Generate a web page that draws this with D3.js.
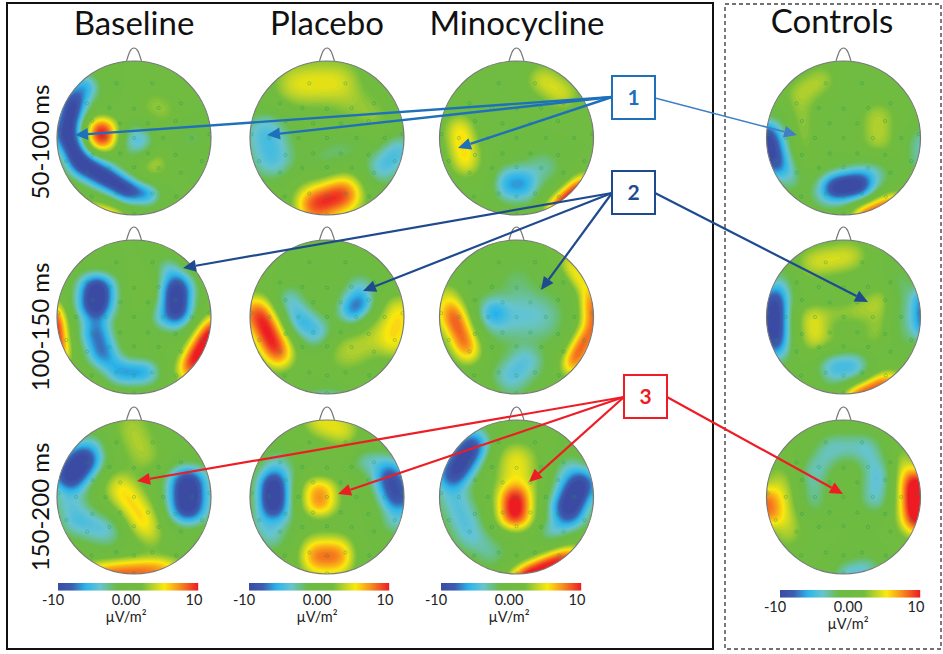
<!DOCTYPE html>
<html><head><meta charset="utf-8">
<style>html,body{margin:0;padding:0;background:#fff}svg{display:block}text{font-family:Lato,"Open Sans",sans-serif}</style>
<script src="https://cdnjs.cloudflare.com/ajax/libs/d3/7.8.5/d3.min.js"></script>
</head><body><svg id="c" width="943" height="654"></svg>
<script>
// Strokes of each scalp map: [x1, y1, x2, y2, spread, amplitude µV/m²], head-normalised.
const base50 = [[-.78,-.5,-.88,-.05,.08,-13],[-.88,-.05,-.7,.33,.08,-13],[-.7,.33,-.35,.52,.08,-13],[-.35,.52,-.05,.7,.07,-13],[-.1,.68,.22,.74,.06,-10],[-.62,-.68,-.78,-.5,.09,-8],[0,.02,.1,.05,.11,-5.5],[-.42,-.12,-.42,.02,.1,12],[.2,.36,.32,.32,.1,3.8],[.25,-.42,.38,-.35,.14,3],[-.6,.95,-.2,1.05,.06,9],[.75,0,.75,0,.1,-2.5]];
const plac50 = [[-.45,-.7,.2,-.72,.18,5],[.3,-.5,.6,-.25,.18,3],[-.8,-.1,-.7,.3,.16,-5.5],[-.1,.3,.4,.05,.12,-2.6],[.7,.4,.95,.15,.12,-5.5],[-.2,.88,.25,.72,.14,10.5]];
const mino50 = [[-.75,-.15,-.65,.35,.11,6.3],[.3,-.78,.65,-.55,.12,4.8],[-.1,.6,.1,.6,.12,-7.5],[.1,.55,.4,.35,.13,-3.5],[.5,.95,.9,.6,.07,14]];
const ctrl50 = [[-1,-.1,-.88,.4,.07,-13],[-.85,-.15,-.7,.55,.08,-6],[-.15,.65,.25,.6,.09,-13],[-.25,.72,.4,.48,.11,-6],[.2,1.02,.7,.82,.06,12],[-.6,-.55,-.25,-.78,.12,3.8],[-.55,-.5,-.55,.2,.11,3.1],[.45,-.3,.45,.05,.14,3.8],[1,0,1,.3,.1,-4]];
const base100 = [[-.48,-.38,-.5,-.15,.12,-13],[-.5,-.1,-.5,.2,.1,-7],[-.5,.2,-.4,.48,.1,-8.5],[-.45,.45,-.2,.7,.09,-6.5],[-.2,.72,.2,.72,.08,-8],[.55,-.4,.55,-.05,.1,-13],[.42,-.65,.7,-.35,.07,-6],[.35,0,.55,.05,.08,-6],[.7,.7,1.05,.1,.08,13],[-1.03,-.1,-.95,.55,.06,12],[.1,-.35,.1,-.35,.08,3]];
const plac100 = [[-.92,-.1,-.62,.5,.11,11.5],[-.5,-.25,-.35,.05,.1,-5],[-.35,.05,-.1,.22,.11,-6],[.32,-.08,.45,-.2,.09,-9],[.45,-.4,.3,0,.11,-5],[.2,.5,.8,.15,.16,3.8],[.95,-.1,.85,.35,.13,6],[-.2,1.05,.2,1.05,.06,-5]];
const mino100 = [[-.85,-.1,-.62,.45,.1,10],[.95,-.3,.98,.15,.06,10],[.98,.15,.7,.65,.07,11],[.65,-.75,.95,-.3,.06,7],[-.9,-.3,-.85,.1,.1,5],[-.28,-.05,-.28,-.05,.1,-7.5],[-.3,0,.35,0,.2,-4.2],[0,-.5,.1,-.2,.16,-2.5],[-.1,.8,.15,.55,.14,-5]];
const ctrl100 = [[-.9,-.3,-.9,.4,.08,-13],[-.8,-.5,-.8,.5,.07,-5.5],[1,-.3,1,.2,.06,-9],[.75,-.6,.8,.35,.08,-3],[-.45,-.7,.15,-.8,.12,4.8],[-.4,0,-.35,.3,.12,5],[-.35,0,.2,-.1,.09,3],[.2,-.05,.5,-.25,.1,3.5],[.5,-.25,.4,.3,.09,3.2],[-.3,.35,.3,.3,.09,2.6],[-.15,.66,.15,.62,.12,-6],[.1,1.03,.65,.82,.06,12]];
const base150 = [[-.85,-.25,-.65,-.5,.12,-13],[-.55,-.7,-.5,-.5,.08,-5.5],[-.85,0,-.75,.3,.13,-4.5],[-.75,.3,-.3,.45,.12,-5],[.7,-.2,.7,.15,.13,-13],[-.2,-.15,.15,.35,.13,6.2],[.1,.3,.25,.55,.1,4],[.15,-.5,-.05,-.95,.15,3.6],[-.6,1,.5,.93,.08,9.5]];
const plac150 = [[-.7,-.2,-.7,.15,.1,-13],[-.65,-.4,-.65,.3,.12,-6],[-.85,.3,-.7,.55,.1,-4.5],[.8,-.3,.93,.05,.11,-11],[.45,-.45,.8,-.45,.08,-4.5],[.9,.3,.9,.3,.1,-5],[-.1,-.07,-.1,.08,.13,8.2],[-.15,.77,.15,.77,.14,8.8],[-.15,-1,.25,-.85,.12,5.2]];
const mino150 = [[-.85,-.25,-.55,-.7,.11,-12],[-.85,-.1,-.6,.5,.13,-5],[-.6,.5,-.3,.75,.12,-3.5],[.65,.2,.85,-.2,.11,-13],[.4,.45,.85,.25,.07,-5.5],[.7,-.4,.55,.2,.1,-5],[-.02,0,-.02,.25,.12,12],[0,-.5,0,-.15,.16,5.2],[0,1.05,.75,.75,.06,14]];
const ctrl150 = [[.92,-.25,.95,.35,.09,14],[.78,-.55,.8,.4,.07,5.5],[-.98,0,-.95,.25,.1,9],[-.85,-.25,-.72,.5,.12,4.5],[-.4,.1,-.4,-.3,.1,-3.6],[-.4,-.3,-.15,-.65,.1,-4],[-.15,-.65,.3,-.65,.1,-4],[.3,-.65,.45,-.3,.1,-4.2],[.45,-.3,.4,.05,.1,-4.8],[0,1,.35,.92,.08,-5]];

const columnTitles = ["Baseline","Placebo","Minocycline","Controls"];
const rowLabels = ["50-100 ms","100-150 ms","150-200 ms"];
const mapRows = [[base50,plac50,mino50,ctrl50],[base100,plac100,mino100,ctrl100],[base150,plac150,mino150,ctrl150]];
const legendTicks = [-10,0,10];
const legendUnit = "µV/m²";
const colorStops = [-10,-8,-6,-4,-1.6,2,3.6,5.2,7.4,10];
const colorValues = ["#3b4ba3","#3c5fb0","#2bb5ea","#66c4d2","#6cbb45","#72bc3e","#b8d22c","#fbe90f","#f78e1e","#ed1c24"];
const electrodes = [[-.23,-.71],[.24,-.71],[-.61,-.45],[-.32,-.39],[0,-.38],[.32,-.39],[.61,-.45],[-.54,-.22],[-.18,-.19],[.18,-.19],[.54,-.22],[-.75,0],[-.37,0],[0,0],[.38,0],[.75,0],[-.54,.22],[-.18,.2],[.18,.2],[.54,.22],[-.88,.3],[.88,.3],[-.61,.45],[-.32,.39],[0,.38],[.32,.39],[.61,.45],[-.55,.76],[-.23,.72],[0,.76],[.24,.72],[.55,.76],[-.98,-.05],[.98,-.05],[0,.99]];
const callouts = [
 {label:"1",color:"#1f70bb",text:"#1f70bb",box:[612,76],from:[[612,97],[612,97],[612,97],[655,98]],to:[[75,135],[267,135],[458,148],[797,135]],w:[2.4,2.4,2.4,1.5]},
 {label:"2",color:"#1f4b8e",text:"#1f4b8e",box:[612,171],from:[[612,193],[612,193],[612,193],[655,193]],to:[[183,268],[363,291],[541,290],[868,302]],w:[2.2,2.2,2.2,2.2]},
 {label:"3",color:"#ee1c25",text:"#ee1c25",box:[624,375],from:[[624,397],[624,397],[624,397],[667,397]],to:[[137,481],[338,494],[529,482],[843,494]],w:[2.2,2.2,2.2,2.2]}
];

const colX = [134,327,516.5,843.5], rowY = [138,317,497], R = 77;
const svg = d3.select("#c");
const color = d3.scaleLinear().domain(colorStops).range(colorValues).clamp(true);
const defs = svg.append("defs");
defs.append("filter").attr("id","soft").attr("x","-5%").attr("y","-5%").attr("width","110%").attr("height","110%")
  .append("feGaussianBlur").attr("stdDeviation",0.6);

// frames
svg.append("rect").attr("x",7).attr("y",3).attr("width",706).attr("height",646).attr("fill","none").attr("stroke","#111").attr("stroke-width",2);
svg.append("rect").attr("x",725).attr("y",4).attr("width",216).attr("height",645).attr("fill","none").attr("stroke","#444").attr("stroke-width",1.4).attr("stroke-dasharray","4 3");

const N=150, P=3, WIDEN=1.3, BLUR=5;
const thresholds=d3.range(-10,10.01,.25);
const gridScale=d3.scaleLinear().domain([0,N-1]).range([-1.03,1.03]);
// elongated blob: Gaussian across the stroke, flat-topped along it, tapering at its ends
function blob(x,y,s){
  const sp=s[4]*WIDEN, mx=(s[0]+s[2])/2, my=(s[1]+s[3])/2;
  let dx=s[2]-s[0],dy=s[3]-s[1];const L=Math.hypot(dx,dy);
  const px=x-mx,py=y-my;
  if(L<1e-6) return Math.exp(-(px*px+py*py)/(2*sp*sp));
  dx/=L;dy/=L;
  const along=px*dx+py*dy, perp=-px*dy+py*dx, a=L/2+sp;
  return Math.exp(-perp*perp/(2*sp*sp))*Math.exp(-Math.pow(along/a,4)*.9);
}
function field(strokes){
  const v=new Float64Array(N*N);
  for(let j=0;j<N;j++)for(let i=0;i<N;i++){
    const x=gridScale(i),y=gridScale(j);let pos=0,neg=0;
    for(const s of strokes){
      const g=Math.abs(s[5])*blob(x,y,s);
      if(s[5]>0)pos+=Math.pow(g,P);else neg+=Math.pow(g,P);
    }
    v[j*N+i]=Math.pow(pos,1/P)-Math.pow(neg,1/P);
  }
  d3.blur2({data:v,width:N,height:N},BLUR);
  return v;
}
mapRows.forEach((row,r)=>row.forEach((strokes,c)=>{
  const cx=colX[c],cy=rowY[r],id=`clip${r}${c}`;
  defs.append("clipPath").attr("id",id).append("circle").attr("cx",cx).attr("cy",cy).attr("r",R);
  const g=svg.append("g").attr("clip-path",`url(#${id})`);
  const inner=g.append("g").attr("filter","url(#soft)");
  const cont=d3.contours().size([N,N]).thresholds(thresholds).smooth(true)(field(strokes));
  const k=R*2.06/(N-1), proj=d3.geoIdentity().scale(k).translate([cx-R*1.03-k*.5,cy-R*1.03-k*.5]);
  const path=d3.geoPath(proj);
  inner.append("rect").attr("x",cx-R-3).attr("y",cy-R-3).attr("width",2*R+6).attr("height",2*R+6).attr("fill",color(-10));
  inner.selectAll("path").data(cont).join("path").attr("d",path).attr("fill",d=>color(d.value+.125));
  g.selectAll("circle.e").data(electrodes).join("circle").attr("class","e")
    .attr("cx",d=>cx+d[0]*R).attr("cy",d=>cy+d[1]*R).attr("r",1.6).attr("fill","none").attr("stroke","#1d9a5a").attr("stroke-opacity",.4).attr("stroke-width",.9);
  svg.append("circle").attr("cx",cx).attr("cy",cy).attr("r",R).attr("fill","none").attr("stroke","#777").attr("stroke-width",1.2);
  svg.append("path").attr("d",`M${cx-7.5},${cy-R}C${cx-5},${cy-R-8} ${cx-3.5},${cy-R-13} ${cx},${cy-R-13}C${cx+3.5},${cy-R-13} ${cx+5},${cy-R-8} ${cx+7.5},${cy-R}`)
    .attr("fill","none").attr("stroke","#777").attr("stroke-width",1.2);
}));

// titles
const titleX=[134,327,517,832], titleY=[35,35,35,33];
svg.selectAll("text.title").data(columnTitles).join("text").attr("class","title")
  .attr("x",(d,i)=>titleX[i]).attr("y",(d,i)=>titleY[i]).attr("text-anchor","middle").attr("font-size",33).attr("fill","#111").text(d=>d);
const rowLabelY=[142,327,507];
svg.selectAll("text.row").data(rowLabels).join("text").attr("class","row")
  .attr("transform",(d,i)=>`translate(49,${rowLabelY[i]}) rotate(-90)`).attr("text-anchor","middle").attr("font-size",24).attr("fill","#111").text(d=>d);

// legends
const legendPos=[[58,583],[249,583],[441,583],[780,590]];
const lx=d3.scaleLinear().domain([-10,10]).range([0,140]);
const tickFmt=v=>v===0?"0.00":String(v), tickShift={"-10":-5,"0":-2,"10":-4};
legendPos.forEach(([x,y])=>{
  const g=svg.append("g").attr("transform",`translate(${x},${y})`);
  g.selectAll("rect").data(d3.range(0,140)).join("rect").attr("x",d=>d).attr("y",0).attr("width",1.2).attr("height",7.5).attr("fill",d=>color(lx.invert(d+.5)));
  g.selectAll("text.t").data(legendTicks).join("text").attr("class","t").attr("x",d=>lx(d)+tickShift[d]).attr("y",22).attr("text-anchor","middle").attr("font-size",14.5).attr("fill","#222").text(tickFmt);
  g.append("text").attr("x",68).attr("y",39).attr("text-anchor","middle").attr("font-size",14.5).attr("fill","#222").text(legendUnit);
});

// callouts
callouts.forEach((c,ci)=>{
  c.to.forEach((t,i)=>{
    const f=c.from[i],a=Math.atan2(t[1]-f[1],t[0]-f[0]),len=13,hw=6;
    const bx=t[0]-len*Math.cos(a),by=t[1]-len*Math.sin(a),nx=-Math.sin(a),ny=Math.cos(a);
    svg.append("line").attr("x1",f[0]).attr("y1",f[1]).attr("x2",bx).attr("y2",by).attr("stroke",i===3&&ci===0?"#3f7fc8":c.color).attr("stroke-width",c.w[i]);
    svg.append("polygon").attr("points",[[t[0],t[1]],[bx+nx*hw,by+ny*hw],[bx-nx*hw,by-ny*hw]].join(" ")).attr("fill",i===3&&ci===0?"#3f7fc8":c.color);
  });
  svg.append("rect").attr("x",c.box[0]).attr("y",c.box[1]).attr("width",43).attr("height",43).attr("fill","#fff").attr("stroke",c.color).attr("stroke-width",2);
  svg.append("text").attr("x",c.box[0]+21.5).attr("y",c.box[1]+29).attr("text-anchor","middle").attr("font-size",21).attr("font-weight",700).attr("fill",c.text).text(c.label);
});
</script></body></html>
